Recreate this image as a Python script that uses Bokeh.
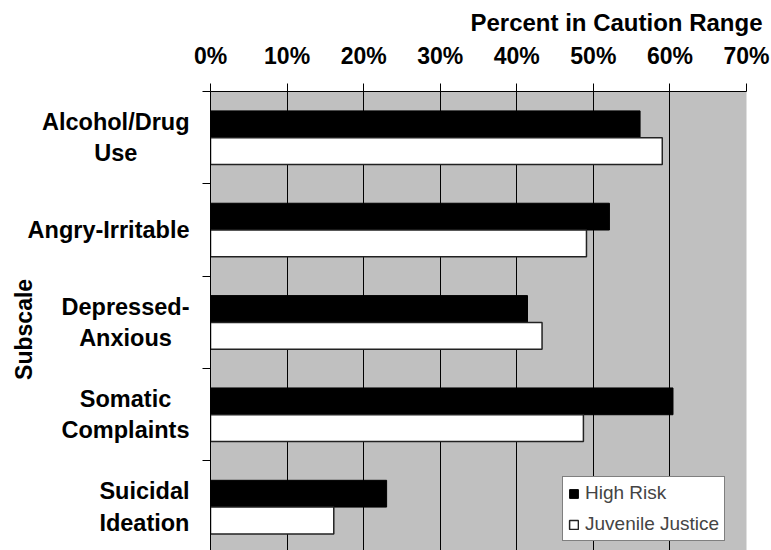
import math
from bokeh.plotting import figure
from bokeh.layouts import row
from bokeh.models import (Range1d, FixedTicker, PrintfTickFormatter, Legend, Label,
                          LegendItem, Grid, ColumnDataSource, Title)
from bokeh.embed import file_html
from bokeh.resources import INLINE

# ---- data ----
categories = ["Alcohol/Drug\nUse", "Angry-Irritable", "Depressed-\nAnxious",
              "Somatic\nComplaints", "Suicidal\nIdeation"]
high_risk = [56.1, 52.1, 41.4, 60.4, 23.0]
juvenile_justice = [59.0, 49.1, 43.3, 48.7, 16.1]
x_ticks = [0, 10, 20, 30, 40, 50, 60, 70]
series_names = ["High Risk", "Juvenile Justice"]
x_title = "Percent in Caution Range"
y_title = "Subscale"

FONT = "Liberation Sans"
BAR_H = 0.29
LEFT_W = 191
pos = [i + 0.5 for i in range(len(categories))]
src = ColumnDataSource(dict(
    y_hr=[c - BAR_H / 2 for c in pos],
    y_jj=[c + BAR_H / 2 for c in pos],
    hr=high_risk,
    jj=juvenile_justice,
))

y_range = Range1d(4.97, 0)

p = figure(width=771 - LEFT_W, height=550, output_backend="svg", toolbar_location=None,
           x_range=Range1d(x_ticks[0], x_ticks[-1]), y_range=y_range,
           x_axis_location="above",
           min_border_left=19, min_border_right=25, min_border_top=91, min_border_bottom=0,
           background_fill_color="#c0c0c0", border_fill_color="white")
p.outline_line_color = None

# top axis
ax = p.xaxis[0]
ax.ticker = FixedTicker(ticks=x_ticks)
ax.formatter = PrintfTickFormatter(format="%d%%")
ax.major_tick_out = 8
ax.major_tick_in = 0
ax.major_tick_line_color = "black"
ax.minor_tick_line_color = None
ax.axis_line_color = "black"
ax.major_label_text_font = FONT
ax.major_label_text_font_style = "bold"
ax.major_label_text_font_size = "23px"
ax.major_label_text_color = "black"
ax.major_label_standoff = 15

p.add_layout(Title(text=x_title, align="right", offset=-16, standoff=8,
                   text_font=FONT, text_font_style="bold", text_font_size="24px",
                   text_color="black"), "above")

# left axis: only boundary ticks
ay = p.yaxis[0]
ay.ticker = FixedTicker(ticks=[], minor_ticks=list(range(len(categories) + 1)))
ay.major_tick_out = 0
ay.major_tick_in = 0
ay.major_label_standoff = 0
ay.minor_tick_out = 8
ay.minor_tick_in = 0
ay.minor_tick_line_color = "black"
ay.axis_line_color = "black"

# grids
p.ygrid.visible = False
p.xgrid.ticker = FixedTicker(ticks=x_ticks[1:-1])
p.xgrid.grid_line_color = "black"
p.xgrid.grid_line_width = 1
p.add_layout(Grid(dimension=0, ticker=FixedTicker(ticks=[x_ticks[-1]]),
                  grid_line_color="#808080", grid_line_width=1.5))

# bars
r1 = p.hbar(y="y_hr", right="hr", left=0, height=BAR_H, source=src,
            fill_color="black", line_color="black", line_width=1)
r2 = p.hbar(y="y_jj", right="jj", left=0, height=BAR_H, source=src,
            fill_color="white", line_color="#222222", line_width=1.5)

legend = Legend(items=[LegendItem(label=series_names[0], renderers=[r1]),
                       LegendItem(label=series_names[1], renderers=[r2])],
                location=(352, 9), glyph_width=11, glyph_height=11,
                label_text_font=FONT, label_text_font_size="19px",
                label_height=22, padding=5, spacing=9, label_standoff=6, margin=0,
                border_line_color="black", border_line_width=1,
                background_fill_color="white", background_fill_alpha=1)
p.add_layout(legend)

# ---- label column (category names + y title) ----
lab = figure(width=LEFT_W, height=550, output_backend="svg", toolbar_location=None,
             x_range=Range1d(0, LEFT_W), y_range=y_range,
             x_axis_location=None, y_axis_location=None,
             min_border_left=0, min_border_right=0, min_border_top=91, min_border_bottom=0,
             background_fill_color="white", border_fill_color="white")
lab.outline_line_color = None
lab.grid.visible = False

for c, cat in zip(pos, categories):
    lab.add_layout(Label(x=189, y=c, text=cat, anchor="center_right",
                         text_align="center", text_baseline="middle",
                         text_font=FONT, text_font_style="bold", text_font_size="23.5px",
                         text_line_height=1.2, text_color="black"))

lab.add_layout(Label(x=23, y=len(categories) / 2, y_offset=-7, angle=math.pi / 2,
                     text=y_title, text_align="center", text_baseline="middle",
                     text_font=FONT, text_font_style="bold", text_font_size="23px",
                     text_color="black"))

layout = row(lab, p, spacing=0)
open("out.html", "w").write(file_html(layout, INLINE))
